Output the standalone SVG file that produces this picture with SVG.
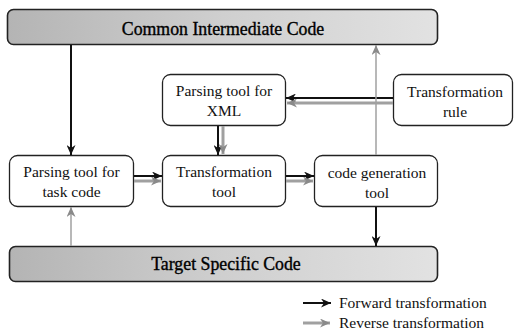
<svg xmlns="http://www.w3.org/2000/svg" width="514" height="334" viewBox="0 0 514 334">
<style>
.box{fill:#fff;stroke:#222;stroke-width:1.3}
.bar{fill:url(#barg);stroke:#222;stroke-width:1.6}
text{font-family:'Liberation Serif','DejaVu Serif',serif}
.t{font-size:15.5px;fill:#111;text-anchor:middle}
.bt{font-size:17.8px;fill:#000;stroke:#000;stroke-width:0.35;text-anchor:middle}
.lt{font-size:15.5px;fill:#111}
.fw{stroke:#111;stroke-width:2;fill:none}
.rv{stroke:#a0a0a0;stroke-width:3;fill:none}
.rvt{stroke:#a0a0a0;stroke-width:1.5;fill:none}
</style>
<defs>
<linearGradient id="barg" x1="0" y1="0" x2="1" y2="0">
<stop offset="0" stop-color="#b4b4b4"/>
<stop offset="0.5" stop-color="#cfcfcf"/>
<stop offset="1" stop-color="#e2e2e2"/>
</linearGradient>
<marker id="ab" markerUnits="userSpaceOnUse" markerWidth="11" markerHeight="9" refX="10" refY="4.5" orient="auto">
<path d="M0,0 L10,4.5 L0,9 L3,4.5 z" fill="#111"/>
</marker>
<marker id="ag" markerUnits="userSpaceOnUse" markerWidth="11" markerHeight="9" refX="10" refY="4.5" orient="auto">
<path d="M0,0 L10,4.5 L0,9 L3,4.5 z" fill="#8a8a8a"/>
</marker>
</defs>
<g id="common-intermediate-code">
<rect class="bar" x="7.5" y="9.5" width="430" height="35" rx="6"/>
<text class="bt" x="223" y="35" font-family="Liberation Serif, serif">Common Intermediate Code</text>
</g>
<g id="target-specific-code">
<rect class="bar" x="9.5" y="246.5" width="428" height="35" rx="6"/>
<text class="bt" x="226" y="270" font-family="Liberation Serif, serif">Target Specific Code</text>
</g>
<g id="parsing-task">
<rect class="box" x="9.5" y="155.5" width="124" height="51" rx="8"/>
<text class="t" x="71.5" y="177">Parsing tool for</text>
<text class="t" x="71.5" y="197">task code</text>
</g>
<g id="parsing-xml">
<rect class="box" x="162.5" y="74.5" width="123" height="51" rx="8"/>
<text class="t" x="224" y="96">Parsing tool for</text>
<text class="t" x="224" y="116">XML</text>
</g>
<g id="transformation-tool">
<rect class="box" x="162.5" y="155.5" width="123" height="51" rx="8"/>
<text class="t" x="224" y="177">Transformation</text>
<text class="t" x="224" y="197">tool</text>
</g>
<g id="transformation-rule">
<rect class="box" x="393.5" y="74.5" width="119" height="51" rx="8"/>
<text class="t" x="455" y="97">Transformation</text>
<text class="t" x="455" y="117">rule</text>
</g>
<g id="code-generation">
<rect class="box" x="314.5" y="155.5" width="123" height="51" rx="8"/>
<text class="t" x="377" y="178">code generation</text>
<text class="t" x="377" y="198">tool</text>
</g>
<g id="connectors">
<line class="fw" x1="71" y1="45" x2="71" y2="155" marker-end="url(#ab)"/>
<line class="rvt" x1="71" y1="246" x2="71" y2="207" marker-end="url(#ag)"/>
<line class="fw" x1="134" y1="176" x2="162" y2="176" marker-end="url(#ab)"/>
<line class="rv" x1="134" y1="181" x2="161" y2="181" marker-end="url(#ag)"/>
<line class="fw" x1="218" y1="126" x2="218" y2="155" marker-end="url(#ab)"/>
<line class="rv" x1="223" y1="126" x2="223" y2="154" marker-end="url(#ag)"/>
<line class="fw" x1="393" y1="98" x2="286" y2="98" marker-end="url(#ab)"/>
<line class="rv" x1="393" y1="103" x2="287" y2="103" marker-end="url(#ag)"/>
<line class="fw" x1="286" y1="176" x2="314" y2="176" marker-end="url(#ab)"/>
<line class="rv" x1="286" y1="181" x2="313" y2="181" marker-end="url(#ag)"/>
<line class="fw" x1="376" y1="207" x2="376" y2="246" marker-end="url(#ab)"/>
<line class="rvt" x1="376" y1="155" x2="376" y2="45" marker-end="url(#ag)"/>
</g>
<g id="legend">
<line class="fw" x1="303" y1="303" x2="331" y2="303" marker-end="url(#ab)"/>
<text class="lt" x="339" y="308">Forward transformation</text>
<line class="rv" x1="303" y1="323" x2="330" y2="323" marker-end="url(#ag)"/>
<text class="lt" x="339" y="328">Reverse transformation</text>
</g>
</svg>
